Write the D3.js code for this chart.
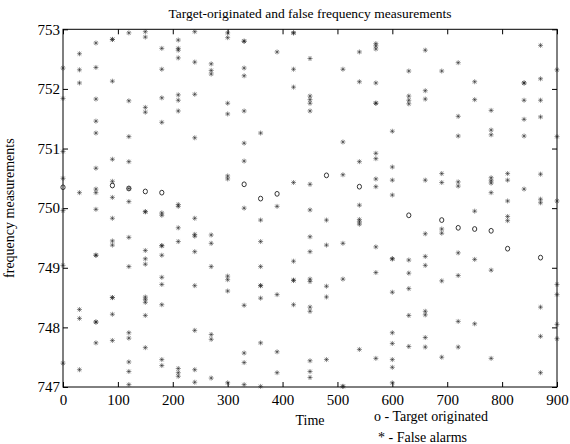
<!DOCTYPE html>
<html>
<head>
<meta charset="utf-8">
<script src="https://cdn.jsdelivr.net/npm/d3@7"></script>
<style>
  html, body { margin: 0; padding: 0; background: #fff; }
  svg { display: block; }
  text { font-family: "Liberation Serif", "Times New Roman", serif; fill: #000; }
</style>
</head>
<body>
<script>
// ---------- data ----------
const times = [0, 30, 60, 90, 120, 150, 180, 210, 240, 270, 300, 330, 360, 390, 420, 450,
               480, 510, 540, 570, 600, 630, 660, 690, 720, 750, 780, 810, 840, 870, 900];

// false-alarm frequencies, one list per time step (same order as `times`)
const falseAlarms = [
  [752.35, 751.84, 750.95, 750.50, 749.96, 749.04, 747.40],
  [752.59, 752.32, 752.10, 750.26, 748.30, 748.15, 747.29],
  [752.77, 752.36, 751.83, 751.46, 751.26, 750.67, 750.32, 750.26, 749.98, 749.21, 749.21, 748.09, 748.09, 747.74],
  [752.83, 752.83, 752.13, 750.82, 750.45, 750.18, 749.83, 749.45, 749.38, 748.50, 748.50, 748.22, 747.78],
  [752.94, 751.80, 751.20, 750.78, 750.33, 750.11, 749.51, 749.02, 747.91, 747.82, 747.42, 747.26, 747.04],
  [752.96, 752.87, 751.69, 751.61, 749.94, 749.94, 749.29, 749.15, 749.06, 748.51, 748.47, 748.42, 748.20, 747.66],
  [752.68, 752.33, 751.85, 751.44, 749.92, 749.88, 749.37, 749.37, 749.21, 748.84, 748.72, 748.38, 747.46, 747.36],
  [752.82, 752.68, 752.65, 752.52, 751.90, 751.81, 751.63, 750.06, 750.03, 749.67, 749.44, 747.31, 747.24, 747.18],
  [752.96, 752.45, 751.91, 751.18, 749.83, 749.56, 749.53, 749.27, 748.70, 747.95, 747.29, 747.08],
  [752.42, 752.31, 752.25, 749.55, 749.41, 749.02, 747.88, 747.80, 747.15],
  [752.94, 752.86, 751.76, 751.58, 750.54, 750.49, 748.86, 748.80, 748.61, 747.07],
  [752.80, 752.80, 752.35, 752.22, 751.63, 751.09, 750.79, 750.00, 748.37, 747.57, 747.41, 747.04],
  [751.26, 749.80, 749.44, 749.02, 748.70, 748.70, 748.49, 747.74, 747.01],
  [752.62, 750.03, 748.55, 747.59, 747.24],
  [752.94, 752.94, 752.33, 752.03, 750.43, 749.11, 748.79, 748.79, 748.38],
  [752.51, 751.88, 751.82, 751.76, 751.63, 750.40, 749.97, 749.52, 749.27, 748.81, 748.77, 748.34, 748.27, 747.44, 747.26, 747.16],
  [749.80, 749.38, 748.69, 748.51, 747.46],
  [752.33, 751.11, 750.56, 749.41, 748.81, 747.01, 747.01],
  [752.62, 752.12, 750.78, 750.05, 749.81, 749.77, 749.73, 747.63],
  [752.76, 752.72, 752.67, 752.10, 751.76, 751.76, 750.92, 750.83, 750.49, 750.36, 749.35, 748.92, 747.48],
  [751.29, 750.69, 750.47, 750.22, 749.15, 749.15, 748.59, 747.91, 747.73, 747.46, 747.33, 747.07],
  [752.30, 751.88, 751.81, 751.75, 749.13, 748.91, 748.65, 748.20, 747.68],
  [752.65, 751.97, 751.83, 750.47, 749.57, 749.19, 749.04, 748.27, 748.21, 747.83, 747.67],
  [752.30, 750.58, 750.43, 749.65, 749.58, 748.78, 747.50],
  [752.44, 751.54, 751.21, 750.44, 750.37, 749.25, 748.87, 748.10, 747.67],
  [752.12, 751.82, 749.95, 749.14, 748.06],
  [751.64, 751.31, 751.23, 750.51, 750.46, 750.42, 750.26, 748.96, 747.48],
  [750.58, 750.47, 750.12, 749.86, 749.79],
  [752.10, 752.10, 751.81, 751.49, 751.21, 750.32],
  [752.73, 752.17, 751.81, 751.53, 750.57, 750.15, 750.09, 748.34, 747.85, 747.24],
  [752.32, 751.20, 750.12, 748.72, 748.55, 748.05, 747.81]
];

const targetTimes = [0, 90, 120, 150, 180, 330, 360, 390, 480, 540, 630, 690, 720, 750, 780, 810, 870];
const targetFreqs = [750.35, 750.38, 750.33, 750.28, 750.26, 750.40, 750.16, 750.24, 750.55, 750.36,
                     749.88, 749.80, 749.67, 749.65, 749.62, 749.32, 749.17];

const xTicks = [0, 100, 200, 300, 400, 500, 600, 700, 800, 900];
const yTicks = [747, 748, 749, 750, 751, 752, 753];

const titleText = "Target-originated and false frequency measurements";
const xLabel = "Time";
const yLabel = "frequency measurements";
const legendLines = ["o - Target originated", "* - False alarms"];

// ---------- drawing ----------
const W = 570, H = 444;
const L = 63, R = 557, T = 29.3, B = 387;

const svg = d3.select("body").append("svg").attr("width", W).attr("height", H);

const x = d3.scaleLinear().domain([0, 900]).range([L, R]);
const y = d3.scaleLinear().domain([747, 753]).range([B, T]);

const tickLen = 5;
const fontTick = 15;

// axes (ticks inside, mirrored)
const gx = svg.append("g").attr("transform", `translate(0,${B})`)
  .call(d3.axisBottom(x).tickValues(xTicks).tickSize(-tickLen).tickPadding(7).tickFormat(d3.format("d")));
const gxTop = svg.append("g").attr("transform", `translate(0,${T})`)
  .call(d3.axisTop(x).tickValues(xTicks).tickSize(-tickLen).tickFormat(""));
const gy = svg.append("g").attr("transform", `translate(${L},0)`)
  .call(d3.axisLeft(y).tickValues(yTicks).tickSize(-tickLen).tickPadding(3).tickFormat(d3.format("d")));
const gyR = svg.append("g").attr("transform", `translate(${R},0)`)
  .call(d3.axisRight(y).tickValues(yTicks).tickSize(-tickLen).tickFormat(""));

[gx, gxTop, gy, gyR].forEach(g => {
  g.select(".domain").remove();
  g.selectAll("line").attr("stroke", "#000").attr("stroke-width", 1);
  g.selectAll("text").attr("font-family", "Liberation Serif").attr("font-size", fontTick).attr("fill", "#000");
});
gx.selectAll("text").attr("dy", "0.71em");

// box
svg.append("rect").attr("x", L).attr("y", T).attr("width", R - L).attr("height", B - T)
  .attr("fill", "none").attr("stroke", "#000").attr("stroke-width", 1);

// false alarms (stars)
const faPoints = [];
times.forEach((t, i) => falseAlarms[i].forEach(f => faPoints.push({ t, f })));
const s = 2.5, d = 1.8;
const starPath = `M${-s},0L${s},0M0,${-s}L0,${s}M${-d},${-d}L${d},${d}M${-d},${d}L${d},${-d}`;
svg.append("g").selectAll("path").data(faPoints).join("path")
  .attr("transform", p => `translate(${x(p.t)},${y(p.f)})`)
  .attr("d", starPath)
  .attr("fill", "none").attr("stroke", "#222").attr("stroke-opacity", 0.5).attr("stroke-width", 1);

// target originated (o)
svg.append("g").selectAll("ellipse").data(targetTimes.map((t, i) => ({ t, f: targetFreqs[i] }))).join("ellipse")
  .attr("cx", p => x(p.t)).attr("cy", p => y(p.f))
  .attr("rx", 2.1).attr("ry", 2.4)
  .attr("fill", "none").attr("stroke", "#333").attr("stroke-width", 1);

// title & labels
svg.append("text").attr("x", (L + R) / 2).attr("y", 17.5).attr("text-anchor", "middle")
  .attr("font-size", 13.5).text(titleText);
svg.append("text").attr("x", (L + R) / 2).attr("y", 425).attr("text-anchor", "middle")
  .attr("font-size", 14).text(xLabel);
svg.append("text").attr("transform", `translate(14,${(T + B) / 2}) rotate(-90)`)
  .attr("text-anchor", "middle").attr("font-size", 14).text(yLabel);
svg.append("text").attr("x", 374).attr("y", 421).attr("font-size", 14).text(legendLines[0]);
svg.append("text").attr("x", 378).attr("y", 441.5).attr("font-size", 14).text(legendLines[1]);
</script>
</body>
</html>
